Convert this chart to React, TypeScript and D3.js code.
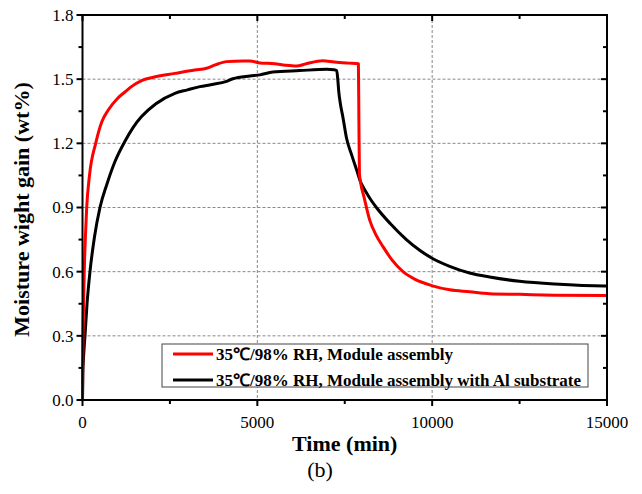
import React from "react";
import * as d3 from "d3";

const redT = [0, 5, 15, 30, 50, 80, 120, 200, 377, 550, 737, 1000, 1214, 1400, 1690, 2000, 2643, 3214, 3548, 3800, 4120, 4595, 4786, 5071, 5500, 5800, 6120, 6400, 6870, 7200, 7600, 7890, 7905, 7920, 7950, 8050, 8214, 8400, 8594, 8850, 9166, 9500, 9986, 10500, 11071, 11643, 12500, 13500, 15000];
const redV = [0, 0.15, 0.3, 0.45, 0.6, 0.75, 0.9, 1.05, 1.2, 1.3, 1.356, 1.41, 1.44, 1.465, 1.493, 1.508, 1.527, 1.543, 1.551, 1.567, 1.582, 1.585, 1.585, 1.576, 1.572, 1.565, 1.561, 1.572, 1.586, 1.58, 1.575, 1.572, 1.3, 1.06, 1.02, 0.95, 0.841, 0.77, 0.717, 0.655, 0.6, 0.565, 0.535, 0.515, 0.506, 0.497, 0.494, 0.49, 0.488];

const blackT = [0, 10, 30, 71, 130, 214, 340, 500, 700, 929, 1214, 1450, 1690, 2100, 2643, 3000, 3357, 3700, 4120, 4300, 4786, 5071, 5443, 6214, 6986, 7200, 7270, 7300, 7330, 7370, 7450, 7550, 7700, 7850, 7948, 8100, 8250, 8405, 8800, 9262, 9643, 9986, 10500, 11071, 11643, 12500, 13500, 14929, 15000];
const blackV = [0, 0.12, 0.2, 0.3, 0.45, 0.6, 0.76, 0.9, 1.01, 1.115, 1.21, 1.275, 1.325, 1.385, 1.434, 1.45, 1.465, 1.475, 1.49, 1.502, 1.515, 1.52, 1.533, 1.54, 1.546, 1.544, 1.54, 1.5, 1.44, 1.39, 1.32, 1.225, 1.145, 1.07, 1.021, 0.975, 0.935, 0.9, 0.825, 0.75, 0.7, 0.664, 0.625, 0.594, 0.575, 0.555, 0.542, 0.533, 0.533];

const xTicks = [0, 5000, 10000, 15000];
const xMinor = [2500, 7500, 12500];
const yTicks = [0, 0.3, 0.6, 0.9, 1.2, 1.5, 1.8];
const yMinor = [0.15, 0.45, 0.75, 1.05, 1.35, 1.65];
const yGrid = [0.3, 0.6, 0.9, 1.2, 1.5];
const xGrid = [5000, 10000];

const seriesNames = ["35\u2103/98% RH, Module assembly", "35\u2103/98% RH, Module assembly with Al substrate"];
const seriesColors = ["#ff0000", "#000000"];

export default function App() {
  const L = 82.5, R = 607, T = 15, B = 400;
  const x = d3.scaleLinear().domain([0, 15000]).range([L, R]);
  const y = d3.scaleLinear().domain([0, 1.8]).range([B, T]);
  const line = d3.line<[number, number]>().x(d => x(d[0])).y(d => y(d[1])).curve(d3.curveMonotoneX);
  const red = redT.map((t, i) => [t, redV[i]] as [number, number]);
  const black = blackT.map((t, i) => [t, blackV[i]] as [number, number]);
  const font = "'Liberation Serif', 'Times New Roman', serif";
  const fmtY = d3.format(".1f");
  return (
    <svg width={642} height={494} style={{ position: "absolute", left: 0, top: 0, background: "#fff" }} fontFamily={font}>
      <rect x={0} y={0} width={642} height={494} fill="#fff" />
      {yGrid.map(v => (
        <line key={"yg" + v} x1={L} x2={R} y1={y(v)} y2={y(v)} stroke="#888" strokeWidth={1} strokeDasharray="3,2" />
      ))}
      {xGrid.map(v => (
        <line key={"xg" + v} x1={x(v)} x2={x(v)} y1={T} y2={B} stroke="#888" strokeWidth={1} strokeDasharray="3,2" />
      ))}
      <path d={line(black) || ""} fill="none" stroke={seriesColors[1]} strokeWidth={3} strokeLinejoin="round" />
      <path d={line(red) || ""} fill="none" stroke={seriesColors[0]} strokeWidth={3} strokeLinejoin="round" />
      <rect x={L} y={T} width={R - L} height={B - T} fill="none" stroke="#000" strokeWidth={2} />
      {yTicks.map(v => (
        <g key={"yt" + v}>
          <line x1={L - 6} x2={L} y1={y(v)} y2={y(v)} stroke="#000" strokeWidth={2} />
          <line x1={R - 6} x2={R} y1={y(v)} y2={y(v)} stroke="#000" strokeWidth={2} />
          <text x={L - 9} y={y(v)} dy="0.35em" textAnchor="end" fontSize={17}>{fmtY(v)}</text>
        </g>
      ))}
      {yMinor.map(v => (
        <g key={"ym" + v}>
          <line x1={L - 4} x2={L} y1={y(v)} y2={y(v)} stroke="#000" strokeWidth={2} />
          <line x1={R - 4} x2={R} y1={y(v)} y2={y(v)} stroke="#000" strokeWidth={2} />
        </g>
      ))}
      {xTicks.map(v => (
        <g key={"xt" + v}>
          <line x1={x(v)} x2={x(v)} y1={B} y2={B + 6} stroke="#000" strokeWidth={2} />
          <line x1={x(v)} x2={x(v)} y1={T} y2={T + 6} stroke="#000" strokeWidth={2} />
          <text x={x(v)} y={422} dy="0.35em" textAnchor="middle" fontSize={17}>{v}</text>
        </g>
      ))}
      {xMinor.map(v => (
        <g key={"xm" + v}>
          <line x1={x(v)} x2={x(v)} y1={B} y2={B + 4} stroke="#000" strokeWidth={2} />
          <line x1={x(v)} x2={x(v)} y1={T} y2={T + 4} stroke="#000" strokeWidth={2} />
        </g>
      ))}
      <text x={(L + R) / 2} y={443} dy="0.35em" textAnchor="middle" fontSize={22} fontWeight="bold">Time (min)</text>
      <text transform={`translate(21, ${(T + B) / 2 + 2}) rotate(-90)`} textAnchor="middle" dy="0.35em" fontSize={22} fontWeight="bold">Moisture wight gain (wt%)</text>
      <text x={320} y={469} dy="0.35em" textAnchor="middle" fontSize={22}>(b)</text>
      <rect x={162} y={344} width={426} height={43} fill="#fff" stroke="#444" strokeWidth={1} />
      {seriesNames.map((n, i) => (
        <g key={n}>
          <line x1={173} x2={213} y1={354 + i * 26} y2={354 + i * 26} stroke={seriesColors[i]} strokeWidth={3} />
          <text x={216} y={354 + i * 26} dy="0.35em" fontSize={17} fontWeight="bold">{n}</text>
        </g>
      ))}
    </svg>
  );
}
